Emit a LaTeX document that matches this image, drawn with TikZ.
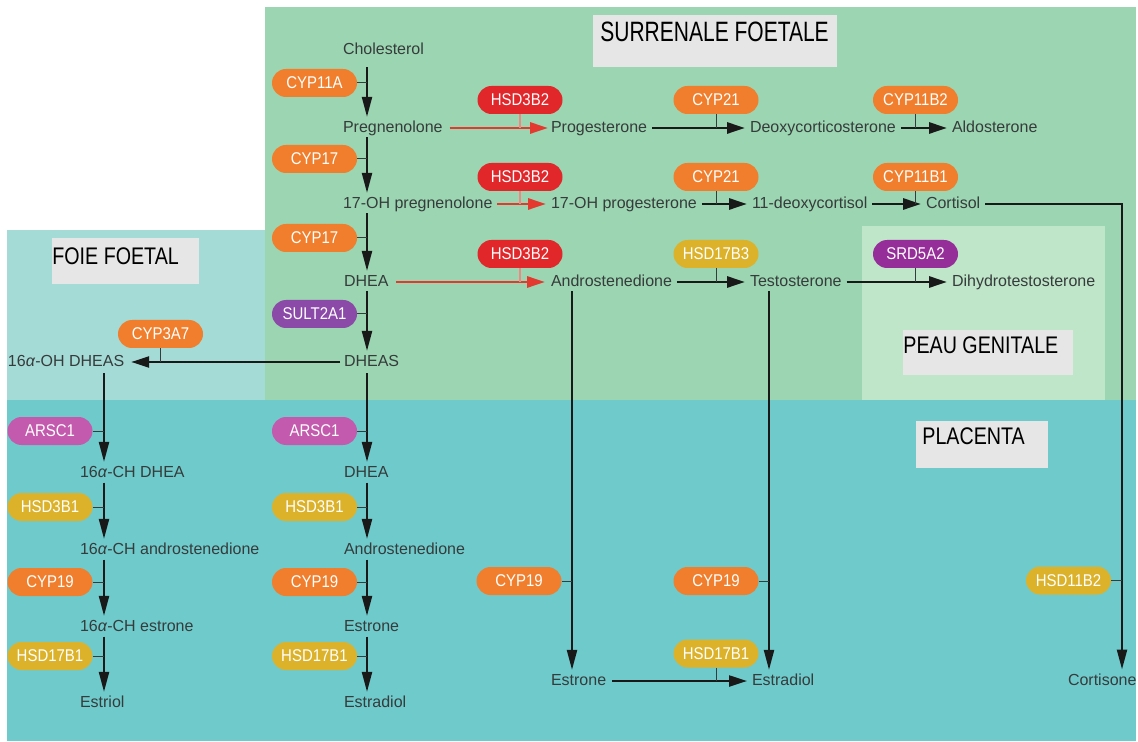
\documentclass[tikz,border=0pt]{standalone}
\usepackage{fontspec}
\setmainfont{Liberation Sans}
\newfontfamily\enzsans[FakeStretch=0.88]{Liberation Sans}
\newfontfamily\tagsans[FakeStretch=0.82]{Liberation Sans}
\newfontfamily\titlesans[FakeStretch=0.75]{Liberation Sans}
\usetikzlibrary{arrows.meta}

% organ backgrounds
\definecolor{adrenal}{HTML}{9CD5B1}
\definecolor{liver}{HTML}{A4DBD6}
\definecolor{placenta}{HTML}{6FCACC}
\definecolor{skin}{HTML}{BFE6C9}
\definecolor{tagfill}{HTML}{E6E6E6}
% text and lines
\definecolor{ink}{HTML}{363B3B}
\definecolor{redline}{HTML}{E4392E}
% enzyme families
\definecolor{cyp}{HTML}{F07E2C}
\definecolor{hsdred}{HTML}{E2272B}
\definecolor{hsdyel}{HTML}{DCB22B}
\definecolor{srd}{HTML}{962E99}
\definecolor{sult}{HTML}{8B49A8}
\definecolor{arsc}{HTML}{C45AAE}

\begin{document}
\begin{tikzpicture}[x=0.5pt,y=-0.5pt,
  mol/.style={anchor=west, inner sep=0pt, outer sep=0pt, text=ink,
    font=\fontsize{8}{9}\selectfont, text height=5.8pt, text depth=1.7pt},
  enz/.style={fill=#1, rounded corners=7pt, minimum width=42.5pt,
    minimum height=14pt, inner sep=0pt, text=white,
    font=\enzsans\fontsize{8.5}{9}\selectfont},
  tagbox/.style={fill=tagfill, anchor=north west, inner sep=0pt},
  tagtext/.style={anchor=west, inner sep=0pt, text=black,
    text depth=0pt, font=\tagsans\fontsize{12}{13}\selectfont, text height=8.6pt},
  flow/.style={draw=black!90, line width=1.1pt,
    -{Triangle[length=10pt,width=5pt]}},
  hflow/.style={flow, line width=1.4pt, shorten <=2.5pt, shorten >=2.5pt,
    -{Triangle[length=9pt,width=5.5pt]}},
  rflow/.style={hflow, draw=redline},
  vflow/.style={flow, shorten <=1pt, shorten >=1.8pt},
  tick/.style={draw=ink, line width=0.5pt},
  rtick/.style={draw=redline!60, line width=0.6pt}
]
\useasboundingbox (0,0) rectangle (1138,742);

% ---------- organ areas ----------
\fill[adrenal] (265,7) rectangle (1136,400);
\fill[liver] (7,230) rectangle (265,400);
\fill[placenta] (7,400) rectangle (1136,741);
\fill[skin] (862,226) rectangle (1105,400);

\node[tagbox, minimum width=122pt, minimum height=26pt] (tagAdrenal) at (593,15) {};
\node[anchor=west, inner sep=0pt, text=black, text height=10pt, text depth=0pt,
  font=\titlesans\fontsize{14}{15}\selectfont] (lblAdrenal) at (600,32) {SURRENALE FOETALE};
\node[tagbox, minimum width=73.5pt, minimum height=23pt] (tagLiver) at (52,238) {};
\node[tagtext] (lblLiver) at (52,256) {FOIE FOETAL};
\node[tagbox, minimum width=85pt, minimum height=22.5pt] (tagSkin) at (903,330) {};
\node[tagtext] (lblSkin) at (903,345) {PEAU GENITALE};
\node[tagbox, minimum width=66pt, minimum height=23.5pt] (tagPlacenta) at (916,421) {};
\node[tagtext] (lblPlacenta) at (922,436) {PLACENTA};

% ---------- column guides ----------
\coordinate (colL) at (104,0);
\coordinate (colA) at (367,0);
\coordinate (colC) at (572,0);
\coordinate (colD) at (769,0);
\coordinate (colE) at (1122,0);

% ---------- steroids ----------
\node[mol] (chol) at (343,50) {Cholesterol};
\node[mol] (preg) at (343,128) {Pregnenolone};
\node[mol] (prog) at (551,128) {Progesterone};
\node[mol] (doc) at (750,128) {Deoxycorticosterone};
\node[mol] (aldo) at (952,128) {Aldosterone};
\node[mol] (ohpreg) at (343,204) {17-OH pregnenolone};
\node[mol] (ohprog) at (551,204) {17-OH progesterone};
\node[mol] (deoxy) at (752,204) {11-deoxycortisol};
\node[mol] (cortisol) at (926,204) {Cortisol};
\node[mol] (dhea) at (344,282) {DHEA};
\node[mol] (andro) at (551,282) {Androstenedione};
\node[mol] (testo) at (750,282) {Testosterone};
\node[mol] (dht) at (952,282) {Dihydrotestosterone};
\node[mol] (dheas) at (344,362) {DHEAS};
\node[mol] (ohdheas) at (8,362) {16\textit{α}-OH DHEAS};
\node[mol] (ohdhea) at (80,473) {16\textit{α}-CH DHEA};
\node[mol] (ohandro) at (80,550) {16\textit{α}-CH androstenedione};
\node[mol] (ohestrone) at (80,627) {16\textit{α}-CH estrone};
\node[mol] (estriol) at (80,703) {Estriol};
\node[mol] (pdhea) at (344,473) {DHEA};
\node[mol] (pandro) at (344,550) {Androstenedione};
\node[mol] (pestrone) at (344,627) {Estrone};
\node[mol] (pestradiol) at (344,703) {Estradiol};
\node[mol] (estrone) at (551,681) {Estrone};
\node[mol] (estradiol) at (752,681) {Estradiol};
\node[mol] (cortisone) at (1068,681) {Cortisone};

% ---------- enzymes ----------
\node[enz=cyp] (cyp11a) at (314.5,83) {CYP11A};
\node[enz=hsdred] (hsdA) at (520,100) {HSD3B2};
\node[enz=cyp] (cyp21a) at (716,100) {CYP21};
\node[enz=cyp] (cyp11b2) at (915.5,100) {CYP11B2};
\node[enz=cyp] (cyp17a) at (314.5,159) {CYP17};
\node[enz=hsdred] (hsdB) at (520,177) {HSD3B2};
\node[enz=cyp] (cyp21b) at (716,177) {CYP21};
\node[enz=cyp] (cyp11b1) at (915.5,177) {CYP11B1};
\node[enz=cyp] (cyp17b) at (314.5,238) {CYP17};
\node[enz=hsdred] (hsdC) at (520,254) {HSD3B2};
\node[enz=hsdyel] (hsd17b3) at (716,254) {HSD17B3};
\node[enz=srd] (srd5a2) at (915.5,254) {SRD5A2};
\node[enz=sult] (sult2a1) at (314.5,314) {SULT2A1};
\node[enz=cyp] (cyp3a7) at (160.5,334) {CYP3A7};
\node[enz=arsc] (arscL) at (50,431) {ARSC1};
\node[enz=arsc] (arscR) at (314.5,431) {ARSC1};
\node[enz=hsdyel] (hsd3b1L) at (50,507) {HSD3B1};
\node[enz=hsdyel] (hsd3b1R) at (314.5,507) {HSD3B1};
\node[enz=cyp] (cyp19L) at (50,582) {CYP19};
\node[enz=cyp] (cyp19R) at (314.5,582) {CYP19};
\node[enz=hsdyel] (hsd17b1L) at (50,656) {HSD17B1};
\node[enz=hsdyel] (hsd17b1R) at (314.5,656) {HSD17B1};
\node[enz=cyp] (cyp19A) at (519,581) {CYP19};
\node[enz=cyp] (cyp19B) at (716,581) {CYP19};
\node[enz=hsdyel] (hsd17b1C) at (716,653.5) {HSD17B1};
\node[enz=hsdyel] (hsd11b2) at (1068.5,580.5) {HSD11B2};

% ---------- adrenal cascade (vertical) ----------
\draw[vflow, shorten <=5pt] (chol.south -| colA) -- (preg.north -| colA);
\draw[vflow] (preg.south -| colA) -- (ohpreg.north -| colA);
\draw[vflow] (ohpreg.south -| colA) -- (dhea.north -| colA);
\draw[vflow] (dhea.south -| colA) -- (dheas.north -| colA);
\draw[tick] (cyp11a.east) -- (cyp11a.east -| colA);
\draw[tick] (cyp17a.east) -- (cyp17a.east -| colA);
\draw[tick] (cyp17b.east) -- (cyp17b.east -| colA);
\draw[tick] (sult2a1.east) -- (sult2a1.east -| colA);

% ---------- adrenal rows (horizontal) ----------
\draw[rflow, shorten <=3.5pt, shorten >=1.5pt] (preg.east) -- (prog.west);
\draw[hflow] (prog.east) -- (doc.west);
\draw[hflow] (doc.east) -- (aldo.west);
\draw[rflow] (ohpreg.east) -- (ohprog.west);
\draw[hflow] (ohprog.east) -- (deoxy.west);
\draw[hflow] (deoxy.east) -- (cortisol.west);
\draw[rflow, shorten <=4pt, shorten >=3pt] (dhea.east) -- (andro.west);
\draw[hflow] (andro.east) -- (testo.west);
\draw[hflow] (testo.east) -- (dht.west);
\draw[rtick] (hsdA.south) -- (hsdA.south |- preg.east);
\draw[tick] (cyp21a.south) -- (cyp21a.south |- prog.east);
\draw[tick] (cyp11b2.south) -- (cyp11b2.south |- doc.east);
\draw[rtick] (hsdB.south) -- (hsdB.south |- ohpreg.east);
\draw[tick] (cyp21b.south) -- (cyp21b.south |- ohprog.east);
\draw[tick] (cyp11b1.south) -- (cyp11b1.south |- deoxy.east);
\draw[rtick] (hsdC.south) -- (hsdC.south |- dhea.east);
\draw[tick] (hsd17b3.south) -- (hsd17b3.south |- andro.east);
\draw[tick] (srd5a2.south) -- (srd5a2.south |- testo.east);

% ---------- cortisol to cortisone ----------
\draw[flow, line width=1.2pt, shorten <=2.5pt, shorten >=2pt]
  (cortisol.east) -| (colE |- cortisone.north);
\draw[tick] (hsd11b2.east) -- (hsd11b2.east -| colE);

% ---------- liver ----------
\draw[flow, line width=1.2pt, shorten <=2pt, shorten >=3.5pt,
  -{Triangle[length=9pt,width=5.5pt]}] (dheas.west) -- (ohdheas.east);
\draw[tick] (cyp3a7.south) -- (cyp3a7.south |- dheas.west);

% ---------- placenta, left column ----------
\draw[vflow, shorten <=2pt] (ohdheas.south -| colL) -- (ohdhea.north -| colL);
\draw[vflow] (ohdhea.south -| colL) -- (ohandro.north -| colL);
\draw[vflow] (ohandro.south -| colL) -- (ohestrone.north -| colL);
\draw[vflow] (ohestrone.south -| colL) -- (estriol.north -| colL);
\draw[tick] (arscL.east) -- (arscL.east -| colL);
\draw[tick] (hsd3b1L.east) -- (hsd3b1L.east -| colL);
\draw[tick] (cyp19L.east) -- (cyp19L.east -| colL);
\draw[tick] (hsd17b1L.east) -- (hsd17b1L.east -| colL);

% ---------- placenta, middle column ----------
\draw[vflow, shorten <=2pt] (dheas.south -| colA) -- (pdhea.north -| colA);
\draw[vflow] (pdhea.south -| colA) -- (pandro.north -| colA);
\draw[vflow] (pandro.south -| colA) -- (pestrone.north -| colA);
\draw[vflow] (pestrone.south -| colA) -- (pestradiol.north -| colA);
\draw[tick] (arscR.east) -- (arscR.east -| colA);
\draw[tick] (hsd3b1R.east) -- (hsd3b1R.east -| colA);
\draw[tick] (cyp19R.east) -- (cyp19R.east -| colA);
\draw[tick] (hsd17b1R.east) -- (hsd17b1R.east -| colA);

% ---------- aromatisation of adrenal androgens ----------
\draw[vflow] (andro.south -| colC) -- (estrone.north -| colC);
\draw[vflow] (testo.south -| colD) -- (estradiol.north -| colD);
\draw[tick] (cyp19A.east) -- (cyp19A.east -| colC);
\draw[tick] (cyp19B.east) -- (cyp19B.east -| colD);
\draw[hflow, line width=1.1pt, shorten <=3pt] (estrone.east) -- (estradiol.west);
\draw[tick] (hsd17b1C.south) -- (hsd17b1C.south |- estrone.east);
\end{tikzpicture}
\end{document}
